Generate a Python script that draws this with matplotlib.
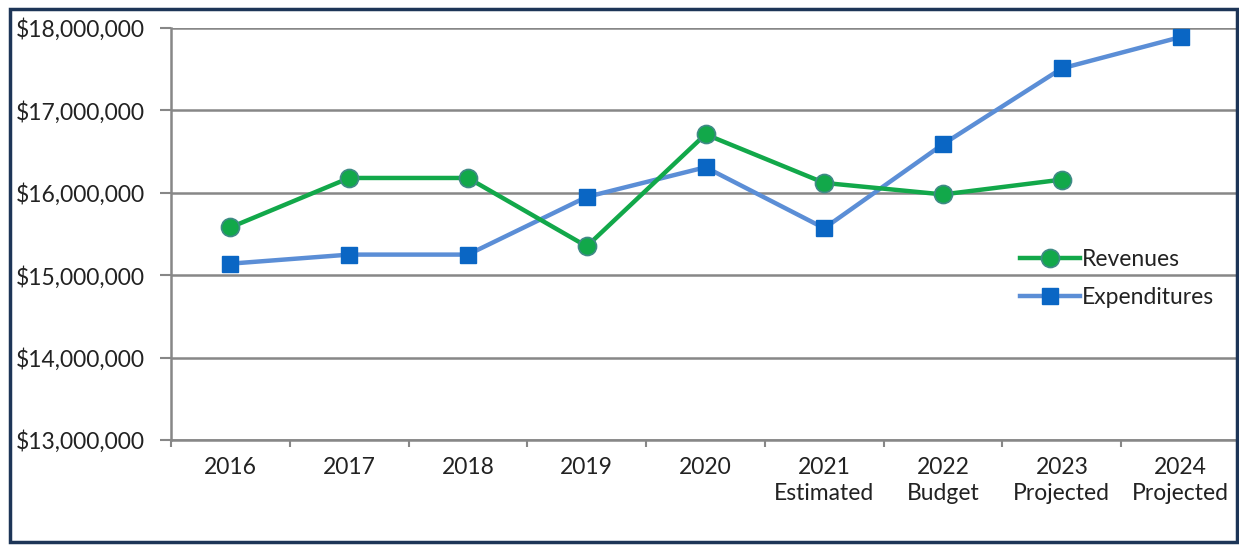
import matplotlib
matplotlib.use("Agg")
import matplotlib.pyplot as plt
from matplotlib.ticker import FuncFormatter, FixedLocator
from matplotlib.patches import Rectangle

categories = ["2016", "2017", "2018", "2019", "2020",
              "2021\nEstimated", "2022\nBudget", "2023\nProjected", "2024\nProjected"]
revenues = [15580000, 16180000, 16180000, 15350000, 16710000, 16120000, 15980000, 16160000, None]
expenditures = [15140000, 15250000, 15250000, 15950000, 16310000, 15570000, 16590000, 17510000, 17890000]
y_ticks = [13000000, 14000000, 15000000, 16000000, 17000000, 18000000]

plt.rcParams['font.family'] = ['Lato', 'DejaVu Sans']

W, H = 1239, 545
fig = plt.figure(figsize=(W / 100, H / 100), dpi=100)
ax = fig.add_axes([171 / W, 1 - 440 / H, (1240 - 171) / W, (440 - 28) / H])

x = list(range(len(categories)))
rx = [i for i, v in zip(x, revenues) if v is not None]
rv = [v for v in revenues if v is not None]

grid_c = "#878787"
fs = 16.5
ax.plot(rx, rv, color="#12a84a", lw=3.2, marker="o", ms=13, mfc="#12a84a",
        mec="#3f8a86", mew=1.2, label="Revenues", zorder=4)
ax.plot(x, expenditures, color="#5b8ed6", lw=3.2, marker="s", ms=12, mfc="#0a66c4",
        mec="#0a66c4", label="Expenditures", zorder=3)

ax.set_xlim(-0.5, len(categories) - 0.5)
ax.set_ylim(13000000, 18000000)
ax.yaxis.set_major_locator(FixedLocator(y_ticks))
ax.yaxis.set_major_formatter(FuncFormatter(lambda v, p: "${:,.0f}".format(v)))
ax.set_xticks(x)
ax.set_xticklabels(categories)
ax.set_xticks([i - 0.5 for i in range(len(categories) + 1)], minor=True)
ax.tick_params(axis="x", which="major", length=0, pad=12, labelsize=fs, labelcolor="#222222")
ax.tick_params(axis="x", which="minor", length=5, width=1.5, color=grid_c, direction="out")
ax.tick_params(axis="y", length=8, width=1.5, color=grid_c, pad=11, labelsize=fs,
               labelcolor="#222222")
for lab in ax.get_xticklabels():
    lab.set_linespacing(1.3)

ax.grid(axis="y", color=grid_c, lw=1.8)
ax.set_axisbelow(True)
for s in ["top", "right"]:
    ax.spines[s].set_visible(False)
for s in ["left", "bottom"]:
    ax.spines[s].set_color(grid_c)
    ax.spines[s].set_linewidth(1.8)

leg = ax.legend(loc="upper left", bbox_to_anchor=((1011 - 171) / (1240 - 171), 1 - (240 - 28) / 412),
                frameon=False, fontsize=fs, handlelength=2.6, handletextpad=0.1,
                labelspacing=0.75, borderaxespad=0)
for t in leg.get_texts():
    t.set_color("#222222")

fig.patches.append(Rectangle((10 / W, 1 - 542 / H), (1237 - 10) / W, (542 - 9) / H,
                             transform=fig.transFigure, fill=False, ec="#1d3557", lw=2.5,
                             zorder=10))

fig.savefig("out.png", dpi=100)
